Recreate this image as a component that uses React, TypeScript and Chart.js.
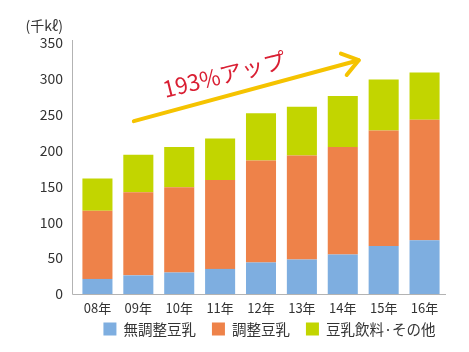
import React, { useEffect, useRef } from "react";
import { Chart, registerables } from "chart.js";

Chart.register(...registerables);

const categories = ["08年", "09年", "10年", "11年", "12年", "13年", "14年", "15年", "16年"];
const seriesNames = ["無調整豆乳", "調整豆乳", "豆乳飲料·その他"];
const plainSoy = [21, 26, 30, 35, 44, 48, 55, 67, 75];
const adjustedSoy = [95, 116, 119, 124, 142, 145, 150, 161, 168];
const otherSoy = [45, 52, 56, 58, 66, 68, 71, 71, 66];
const seriesColors = ["#7eaee0", "#ee8249", "#c2d500"];
const yMax = 350;
const yStep = 50;
const unitLabel = "(千kℓ)";
const growthLabel = "193%アップ";
// annotation arrow anchored in data space: [categoryIndex, value]
const arrowStart = [0.89, 241];
const arrowEnd = [6.39, 326];
const growthLabelAnchor = [3.1, 306];

const FONT = '"Noto Sans CJK JP", "Noto Sans", sans-serif';

export default function App() {
  const ref = useRef<HTMLCanvasElement | null>(null);

  useEffect(() => {
    if (!ref.current) return;

    const overlay = {
      id: "overlay",
      afterDraw(chart: any) {
        const ctx = chart.ctx;
        const area = chart.chartArea;
        const xs = chart.scales.x;
        const ys = chart.scales.y;
        ctx.save();

        // axis lines
        const axisX = Math.round(area.left - 5) + 0.5;
        const axisY = Math.round(area.bottom) + 0.5;
        ctx.strokeStyle = "#b3b3b3";
        ctx.lineWidth = 1;
        ctx.beginPath();
        ctx.moveTo(axisX, area.top - 3);
        ctx.lineTo(axisX, axisY);
        ctx.lineTo(area.right + 1, axisY);
        ctx.stroke();

        // unit label
        ctx.fillStyle = "#333333";
        ctx.font = `14px ${FONT}`;
        ctx.textAlign = "right";
        ctx.textBaseline = "middle";
        ctx.fillText(unitLabel, area.left - 14, 26);

        // arrow
        const x1 = xs.getPixelForValue(arrowStart[0]);
        const y1 = ys.getPixelForValue(arrowStart[1]);
        const x2 = xs.getPixelForValue(arrowEnd[0]);
        const y2 = ys.getPixelForValue(arrowEnd[1]);
        const ang = Math.atan2(y2 - y1, x2 - x1);
        ctx.strokeStyle = "#f5c300";
        ctx.lineWidth = 4;
        ctx.lineCap = "round";
        ctx.lineJoin = "round";
        ctx.beginPath();
        ctx.moveTo(x1, y1);
        ctx.lineTo(x2, y2);
        ctx.stroke();
        const headLen = 19;
        const spread = 0.62;
        ctx.beginPath();
        ctx.moveTo(x2 - headLen * Math.cos(ang - spread), y2 - headLen * Math.sin(ang - spread));
        ctx.lineTo(x2, y2);
        ctx.lineTo(x2 - headLen * Math.cos(ang + spread), y2 - headLen * Math.sin(ang + spread));
        ctx.stroke();

        // growth label
        const tx = xs.getPixelForValue(growthLabelAnchor[0]);
        const ty = ys.getPixelForValue(growthLabelAnchor[1]);
        ctx.translate(tx, ty);
        ctx.rotate((-14 * Math.PI) / 180);
        ctx.fillStyle = "#d91f33";
        ctx.font = `22.5px ${FONT}`;
        ctx.textAlign = "center";
        ctx.textBaseline = "middle";
        ctx.fillText(growthLabel, 0, 0);
        ctx.restore();

        // legend
        ctx.save();
        ctx.font = `14.5px ${FONT}`;
        ctx.textAlign = "left";
        ctx.textBaseline = "middle";
        const box = 13;
        const gapText = 7;
        const gapItem = 16;
        const widths = seriesNames.map((n) => ctx.measureText(n).width);
        const total =
          widths.reduce((a, w) => a + box + gapText + w, 0) + gapItem * (seriesNames.length - 1);
        let lx = 269.5 - total / 2;
        const ly = 329;
        seriesNames.forEach((n, i) => {
          ctx.fillStyle = seriesColors[i];
          ctx.fillRect(lx, ly - box / 2, box, box);
          ctx.fillStyle = "#333333";
          ctx.fillText(n, lx + box + gapText, ly + 0.5);
          lx += box + gapText + widths[i] + gapItem;
        });
        ctx.restore();
      },
    };

    const chart = new Chart(ref.current, {
      type: "bar",
      data: {
        labels: categories,
        datasets: [
          { label: seriesNames[0], data: plainSoy, backgroundColor: seriesColors[0] },
          { label: seriesNames[1], data: adjustedSoy, backgroundColor: seriesColors[1] },
          { label: seriesNames[2], data: otherSoy, backgroundColor: seriesColors[2] },
        ],
      },
      options: {
        responsive: false,
        animation: false,
        layout: { padding: { left: 0, right: 24, top: 43, bottom: 34 } },
        plugins: {
          legend: { display: false },
          tooltip: { enabled: false },
        },
        datasets: {
          bar: { barPercentage: 0.735, categoryPercentage: 1 },
        },
        scales: {
          x: {
            stacked: true,
            grid: { display: false, drawTicks: false },
            border: { display: false },
            ticks: {
              color: "#333333",
              font: { family: FONT, size: 13 },
              padding: 6,
              maxRotation: 0,
            },
            afterFit(scale: any) {
              scale.height = 24;
            },
          },
          y: {
            stacked: true,
            min: 0,
            max: yMax,
            grid: { display: false, drawTicks: false },
            border: { display: false },
            ticks: {
              stepSize: yStep,
              color: "#333333",
              font: { family: FONT, size: 14 },
              padding: 14,
            },
            afterFit(scale: any) {
              scale.width = 77;
            },
          },
        },
      },
      plugins: [overlay],
    });

    return () => chart.destroy();
  }, []);

  return (
    <div style={{ position: "absolute", left: 0, top: 0, width: 469, height: 352, background: "#ffffff" }}>
      <canvas ref={ref} width={469} height={352} />
    </div>
  );
}
